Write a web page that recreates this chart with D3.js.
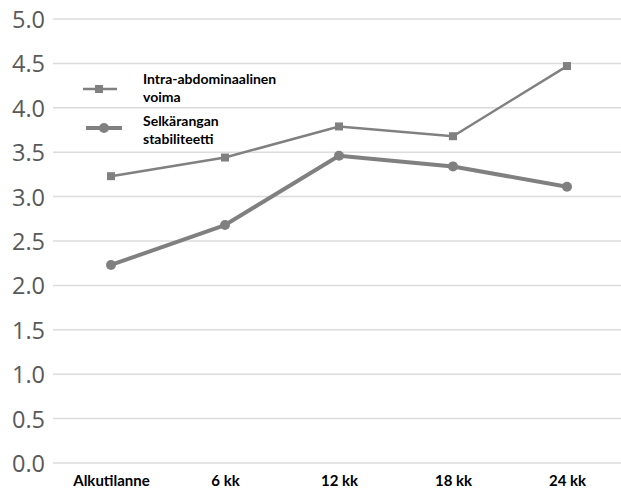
<!DOCTYPE html>
<html><head><meta charset="utf-8">
<script src="https://cdn.jsdelivr.net/npm/d3@7"></script>
<style>body{margin:0;background:#fff}</style>
</head><body><svg id="c" width="621" height="490"></svg>
<script>
const categories = ["Alkutilanne", "6 kk", "12 kk", "18 kk", "24 kk"];
const seriesNames = ["Intra-abdominaalinen voima", "Selkärangan stabiliteetti"];
const intraValues = [3.23, 3.44, 3.79, 3.68, 4.47];
const selkaValues = [2.23, 2.68, 3.46, 3.34, 3.11];
const yTicks = [0, 0.5, 1, 1.5, 2, 2.5, 3, 3.5, 4, 4.5, 5];

const svg = d3.select("#c");
const x = d3.scalePoint().domain(categories).range([111, 567]);
const y = d3.scaleLinear().domain([0, 5]).range([463, 19]);
const col = "#808080";

// gridlines
svg.append("g").selectAll("line").data(yTicks).join("line")
  .attr("x1", 53).attr("x2", 621)
  .attr("y1", d => y(d)).attr("y2", d => y(d))
  .attr("stroke", "#dcdcdc").attr("stroke-width", 1.5);

// y axis labels
const yAxis = d3.axisLeft(y).tickValues(yTicks).tickFormat(d3.format(".1f")).tickSize(0).tickPadding(0);
const ga = svg.append("g").attr("transform", "translate(45,0)").call(yAxis);
ga.select(".domain").remove();
ga.selectAll("text").attr("font-family", "'Open Sans', sans-serif").attr("font-size", 23.5)
  .attr("fill", "#595959").attr("dy", "0.36em");

// x axis labels
const xAxis = d3.axisBottom(x).tickSize(0).tickPadding(0);
const gx = svg.append("g").attr("transform", "translate(0,486)").call(xAxis);
gx.select(".domain").remove();
gx.selectAll("text").attr("font-family", "Lato, sans-serif").attr("font-weight", "bold")
  .attr("font-size", 15).attr("fill", "#000").attr("dy", "0");

const line = d3.line().x((d, i) => x(categories[i])).y(d => y(d));

// selka line (thick, circles)
svg.append("path").datum(selkaValues).attr("d", line).attr("fill", "none")
  .attr("stroke", col).attr("stroke-width", 4).attr("stroke-linejoin", "round");
svg.append("g").selectAll("circle").data(selkaValues).join("circle")
  .attr("cx", (d, i) => x(categories[i])).attr("cy", d => y(d)).attr("r", 5).attr("fill", col);

// intra line (thin, squares)
svg.append("path").datum(intraValues).attr("d", line).attr("fill", "none")
  .attr("stroke", col).attr("stroke-width", 2.5);
svg.append("g").selectAll("rect").data(intraValues).join("rect")
  .attr("x", (d, i) => x(categories[i]) - 4).attr("y", d => y(d) - 4)
  .attr("width", 8).attr("height", 8).attr("fill", col);

// legend
const lg = svg.append("g");
lg.append("line").attr("x1", 83).attr("x2", 117).attr("y1", 89).attr("y2", 89)
  .attr("stroke", col).attr("stroke-width", 2.5);
lg.append("rect").attr("x", 95).attr("y", 85).attr("width", 8).attr("height", 8).attr("fill", col);
lg.append("line").attr("x1", 86).attr("x2", 122).attr("y1", 128).attr("y2", 128)
  .attr("stroke", col).attr("stroke-width", 4);
lg.append("circle").attr("cx", 104).attr("cy", 128).attr("r", 5).attr("fill", col);
const lt = [["Intra-abdominaalinen", 84], ["voima", 102], ["Selkärangan", 126], ["stabiliteetti", 144]];
lg.selectAll("text").data(lt).join("text")
  .attr("x", 143).attr("y", d => d[1]).text(d => d[0])
  .attr("font-family", "Lato, sans-serif").attr("font-weight", "bold")
  .attr("font-size", 14).attr("fill", "#000");
</script></body></html>
